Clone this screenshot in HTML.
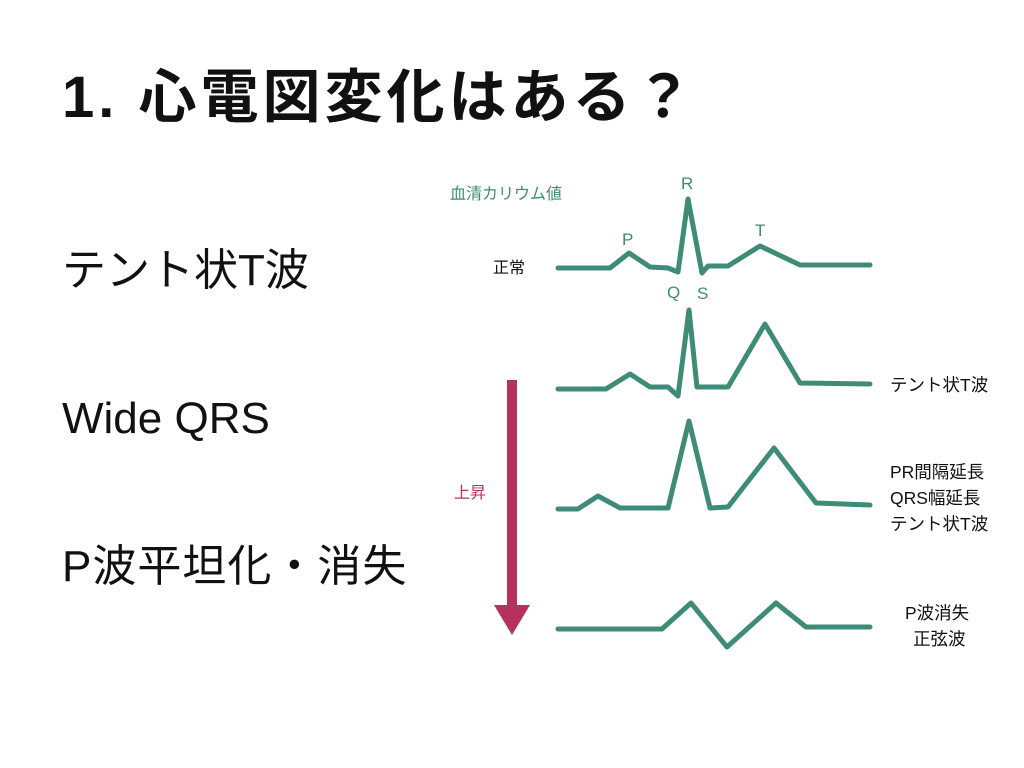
<!DOCTYPE html>
<html><head><meta charset="utf-8"><style>
body{margin:0;width:1024px;height:768px;background:#fff;overflow:hidden;position:relative;font-family:"Liberation Sans","Noto Sans CJK JP",sans-serif;}
.t{position:absolute;white-space:nowrap;line-height:1;}
</style></head><body>
<div class="t" style="left:62px;top:69px;font-size:58px;font-weight:bold;color:#111;letter-spacing:4px;">1. 心電図変化はある？</div>
<div class="t" style="left:62px;top:249px;font-size:44px;color:#111;">テント状T波</div>
<div class="t" style="left:62px;top:397px;font-size:44px;color:#111;">Wide QRS</div>
<div class="t" style="left:62px;top:545px;font-size:44px;color:#111;letter-spacing:1px;">P波平坦化・消失</div>
<svg width="1024" height="768" style="position:absolute;left:0;top:0" font-family="Liberation Sans,Noto Sans CJK JP,sans-serif">
<g fill="none" stroke="#3e8c78" stroke-width="5" stroke-linejoin="round" stroke-linecap="round">
<polyline points="558,268 610,268 629,253 650,267 668,268 678,272 688,199 702,273 708,266 728,266 760,246 800,265 870,265"/>
<polyline points="558,389 606,389 630,374 650,387 668,387 678,396 689,310 697,387 728,387 765,324 800,383 870,384"/>
<polyline points="558,509 578,509 598,496 620,508 668,508 689,421 710,508 728,507 774,448 816,503 870,505"/>
<polyline points="558,629 662,629 691,603 727,647 776,603 806,627 870,627"/>
</g>
<rect x="507" y="380" width="10" height="230" fill="#b5325f"/>
<polygon points="494,605 530,605 512,635" fill="#b5325f"/>
<text x="450" y="199" font-size="16" fill="#3e8c78">血清カリウム値</text>
<text x="681" y="189" font-size="17" fill="#3e8c78">R</text>
<text x="622" y="245" font-size="17" fill="#3e8c78">P</text>
<text x="755" y="236" font-size="17" fill="#3e8c78">T</text>
<text x="667" y="298" font-size="17" fill="#3e8c78">Q</text>
<text x="697" y="299" font-size="17" fill="#3e8c78">S</text>
<text x="493" y="273" font-size="16" fill="#111">正常</text>
<text x="454" y="498" font-size="16" fill="#b5325f">上昇</text>
<g font-size="17.5" fill="#111">
<text x="890" y="391">テント状T波</text>
<text x="890" y="478">PR間隔延長</text>
<text x="890" y="504">QRS幅延長</text>
<text x="890" y="530">テント状T波</text>
<text x="905" y="619">P波消失</text>
<text x="913" y="645">正弦波</text>
</g>
</svg>
</body></html>
